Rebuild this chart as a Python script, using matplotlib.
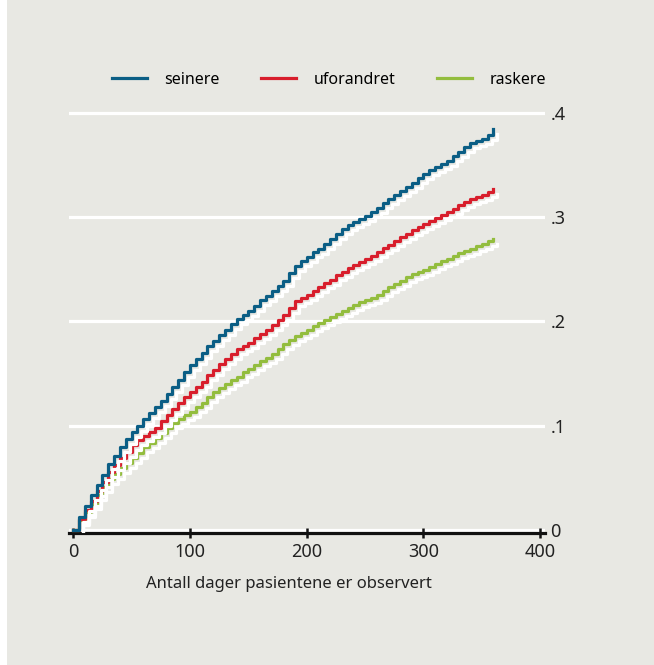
import matplotlib
matplotlib.use("Agg")
import matplotlib.pyplot as plt
import matplotlib.transforms as mtransforms
from matplotlib.patches import Rectangle
import numpy as np

plt.rcParams['font.family'] = ['Noto Sans', 'DejaVu Sans']

# days observed, sampled every 5 days
days = np.arange(0, 361, 5)

seinere = [0.000, 0.012, 0.023, 0.033, 0.043, 0.053, 0.063, 0.071, 0.079, 0.087,
           0.094, 0.100, 0.106, 0.112, 0.118, 0.124, 0.130, 0.137, 0.144, 0.151,
           0.158, 0.164, 0.170, 0.176, 0.181, 0.187, 0.192, 0.197, 0.202, 0.206,
           0.210, 0.215, 0.220, 0.224, 0.229, 0.234, 0.239, 0.246, 0.253, 0.258,
           0.262, 0.266, 0.269, 0.274, 0.279, 0.284, 0.288, 0.292, 0.295, 0.298,
           0.301, 0.305, 0.309, 0.313, 0.317, 0.321, 0.325, 0.329, 0.333, 0.337,
           0.341, 0.345, 0.348, 0.351, 0.354, 0.358, 0.362, 0.367, 0.371, 0.373,
           0.375, 0.379, 0.384]

uforandret = [0.000, 0.010, 0.019, 0.028, 0.037, 0.046, 0.055, 0.062, 0.069, 0.075,
              0.081, 0.086, 0.090, 0.094, 0.098, 0.104, 0.110, 0.116, 0.122, 0.127,
              0.132, 0.137, 0.142, 0.148, 0.153, 0.159, 0.164, 0.169, 0.173, 0.176,
              0.179, 0.184, 0.188, 0.192, 0.196, 0.201, 0.206, 0.213, 0.219, 0.222,
              0.225, 0.229, 0.233, 0.237, 0.240, 0.244, 0.247, 0.251, 0.254, 0.257,
              0.260, 0.263, 0.266, 0.270, 0.273, 0.277, 0.281, 0.284, 0.287, 0.290,
              0.293, 0.296, 0.299, 0.302, 0.305, 0.308, 0.311, 0.314, 0.317, 0.319,
              0.321, 0.324, 0.327]

raskere = [0.000, 0.009, 0.017, 0.025, 0.033, 0.041, 0.049, 0.054, 0.059, 0.064,
           0.069, 0.074, 0.079, 0.083, 0.088, 0.093, 0.098, 0.102, 0.106, 0.110,
           0.113, 0.118, 0.122, 0.127, 0.132, 0.136, 0.140, 0.144, 0.147, 0.151,
           0.154, 0.158, 0.162, 0.165, 0.169, 0.173, 0.178, 0.182, 0.186, 0.189,
           0.192, 0.195, 0.198, 0.201, 0.204, 0.207, 0.210, 0.213, 0.216, 0.218,
           0.220, 0.222, 0.225, 0.229, 0.233, 0.236, 0.239, 0.242, 0.245, 0.247,
           0.249, 0.252, 0.255, 0.258, 0.260, 0.263, 0.265, 0.267, 0.269, 0.272,
           0.274, 0.277, 0.279]

series_names = ['seinere', 'uforandret', 'raskere']
series_colors = ['#0b5e85', '#d81e2c', '#93bd3e']
x_ticks = [0, 100, 200, 300, 400]
y_ticks = [0, 0.1, 0.2, 0.3, 0.4]
y_ticklabels = ['0', '.1', '.2', '.3', '.4']
x_label = 'Antall dager pasientene er observert'

bg = '#e8e8e3'

fig = plt.figure(figsize=(6.54, 6.65), dpi=100)
fig.patch.set_facecolor('white')
fig.patches.append(Rectangle((7 / 654, 0), 1, 1, transform=fig.transFigure,
                             facecolor=bg, edgecolor='none', zorder=-10))

ax = fig.add_axes([0.1058, 0.1985, 0.7272, 0.6400])
ax.set_facecolor(bg)
ax.set_xlim(-3.5, 404)
ax.set_ylim(-0.003, 0.405)

# white horizontal gridlines
for yv in y_ticks:
    ax.axhline(yv, color='white', lw=2.3, zorder=1)

# white shadow offset down-right from each line
shadow = mtransforms.offset_copy(ax.transData, fig=fig, x=4, y=-5, units='dots')

all_series = [seinere, uforandret, raskere]
z = 2
for values, name, color in reversed(list(zip(all_series, series_names, series_colors))):
    ax.plot(days, values, drawstyle='steps-post', color='white', lw=2.3,
            transform=shadow, zorder=z)
    ax.plot(days, values, drawstyle='steps-post', color=color, lw=2.3,
            zorder=z + 1, label=name)
    z += 2

for s in ['top', 'left', 'right']:
    ax.spines[s].set_visible(False)
ax.spines['bottom'].set_linewidth(2.3)
ax.spines['bottom'].set_color('#111111')

ax.set_xticks(x_ticks)
ax.tick_params(axis='x', direction='inout', length=7, width=1.8, color='#111111',
               labelsize=13, pad=4, labelcolor='#222222')
ax.yaxis.tick_right()
ax.set_yticks(y_ticks)
ax.set_yticklabels(y_ticklabels)
ax.tick_params(axis='y', length=0, labelsize=13, pad=4, labelcolor='#222222')
for lab in ax.get_yticklabels():
    lab.set_horizontalalignment('left')

ax.set_xlabel(x_label, fontsize=12, color='#222222')
ax.xaxis.set_label_coords(0.462, -0.102)

handles, labels = ax.get_legend_handles_labels()
order = [labels.index(n) for n in series_names]
fig.legend([handles[i] for i in order], [labels[i] for i in order],
           loc='center', bbox_to_anchor=(0.503, 0.88), ncol=3, frameon=False,
           fontsize=11.5, handlelength=2.2, handletextpad=1.1, columnspacing=2.6)

fig.savefig('out.png', dpi=100, facecolor=fig.get_facecolor())
